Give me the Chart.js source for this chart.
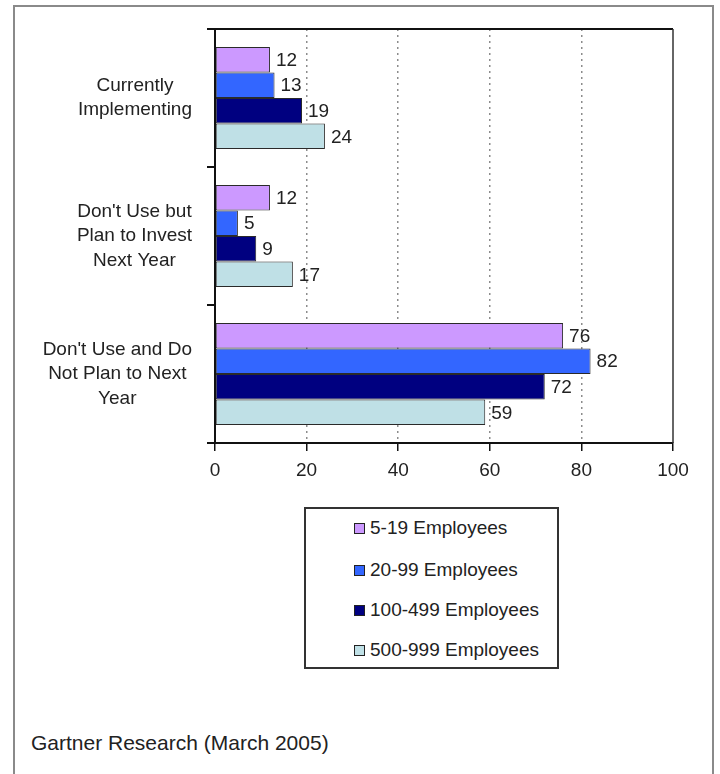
<!DOCTYPE html>
<html>
<head>
<meta charset="utf-8">
<script src="https://cdn.jsdelivr.net/npm/chart.js@4/dist/chart.umd.min.js"></script>
<style>
  html, body { margin: 0; padding: 0; background: #fff; }
  #page { position: relative; width: 720px; height: 774px; overflow: hidden; background: #fff; }
  #frame { position: absolute; left: 13px; top: 5px; width: 701px; height: 820px; border: 2px solid #8a8a8a; box-sizing: border-box; }
  #chart { position: absolute; left: 0; top: 0; }
  #legend { position: absolute; left: 304px; top: 507px; width: 255px; height: 162px; border: 2px solid #333; box-sizing: border-box; background: #fff; }
  .item { position: absolute; left: 0; height: 24px; line-height: 24px; font-family: "Liberation Sans", Arial, sans-serif; font-size: 19px; color: #222; white-space: nowrap; }
  .swatch { position: absolute; left: 48px; top: 7px; width: 9px; height: 9px; border: 1px solid #222; }
  .label { position: absolute; left: 64px; top: 0; }
  #footer { position: absolute; left: 31px; top: 731px; font-family: "Liberation Sans", Arial, sans-serif; font-size: 21px; line-height: 24px; color: #222; white-space: nowrap; }
</style>
</head>
<body>
<div id="page">
  <div id="frame"></div>
  <canvas id="chart" width="720" height="500"></canvas>
  <div id="legend"></div>
  <div id="footer">Gartner Research (March 2005)</div>
</div>
<script>
// ---- data ----
const categories = [
  ["Currently", "Implementing"],
  ["Don't Use but", "Plan to Invest", "Next Year"],
  ["Don't Use and Do", "Not Plan to Next", "Year"]
];
const seriesNames = ["5-19 Employees", "20-99 Employees", "100-499 Employees", "500-999 Employees"];
const emp5to19 = [12, 12, 76];
const emp20to99 = [13, 5, 82];
const emp100to499 = [19, 9, 72];
const emp500to999 = [24, 17, 59];
const xTickValues = [0, 20, 40, 60, 80, 100];

// ---- styles ----
const seriesColors = ["#CC99FF", "#3366FF", "#000080", "#BFE0E6"];
const FONT = '"Liberation Sans", Arial, sans-serif';
const seriesValues = [emp5to19, emp20to99, emp100to499, emp500to999];

const datasets = seriesNames.map((name, i) => ({
  label: name,
  data: seriesValues[i],
  backgroundColor: seriesColors[i],
  borderColor: "#2a2a2a",
  borderWidth: 1,
  borderSkipped: false,
  categoryPercentage: 0.74,
  barPercentage: 1.0
}));

const frameAndLabels = {
  id: 'frameAndLabels',
  afterDatasetsDraw(chart) {
    const ctx = chart.ctx;
    const a = chart.chartArea;
    ctx.save();
    // value labels
    ctx.font = '19px ' + FONT;
    ctx.fillStyle = '#222';
    ctx.textAlign = 'left';
    ctx.textBaseline = 'middle';
    chart.data.datasets.forEach((ds, di) => {
      const meta = chart.getDatasetMeta(di);
      meta.data.forEach((bar, j) => {
        ctx.fillText(String(ds.data[j]), bar.x + 6, bar.y + 1);
      });
    });
    // plot frame: top and right
    ctx.strokeStyle = '#111';
    ctx.lineWidth = 2;
    ctx.beginPath();
    ctx.moveTo(a.left, a.top);
    ctx.lineTo(a.right, a.top);
    ctx.stroke();
    ctx.strokeStyle = '#333';
    ctx.lineWidth = 1.5;
    ctx.beginPath();
    ctx.moveTo(a.right, a.top);
    ctx.lineTo(a.right, a.bottom);
    ctx.stroke();
    // category labels (right-aligned block, centered lines)
    const ys = chart.scales.y;
    ctx.font = '19px ' + FONT;
    ctx.fillStyle = '#222';
    ctx.textAlign = 'center';
    const lh = 24.5;
    const rightEdge = a.left - 23;
    categories.forEach((lines, i) => {
      const yc = ys.getPixelForTick(i);
      const w = Math.max(...lines.map(l => ctx.measureText(l).width));
      const cx = rightEdge - w / 2;
      const y0 = yc - (lines.length - 1) * lh / 2;
      lines.forEach((l, k) => ctx.fillText(l, cx, y0 + k * lh));
    });
    ctx.restore();
  }
};

new Chart(document.getElementById('chart'), {
  type: 'bar',
  data: { labels: categories.map(c => c.join(' ')), datasets },
  options: {
    indexAxis: 'y',
    responsive: false,
    animation: false,
    devicePixelRatio: 1,
    layout: { padding: { top: 29, right: 47, left: 0, bottom: 0 } },
    plugins: { legend: { display: false }, tooltip: { enabled: false } },
    scales: {
      x: {
        min: 0, max: 100,
        afterBuildTicks(scale) { scale.ticks = xTickValues.map(v => ({ value: v })); },
        afterFit(scale) { scale.height = 57; },
        grid: {
          color: (c) => (c.tick && (c.tick.value === 0 || c.tick.value === 100)) ? 'rgba(0,0,0,0)' : '#8c8c8c',
          tickColor: '#111',
          lineWidth: 1.5,
          tickLength: 8,
          tickWidth: 1.5
        },
        border: { display: true, color: '#111', width: 2, dash: [2, 4] },
        ticks: { color: '#222', font: { family: FONT, size: 19 }, padding: 8, maxRotation: 0 }
      },
      y: {
        afterFit(scale) { scale.width = 215; },
        grid: { display: true, drawOnChartArea: false, drawTicks: true, tickLength: 8, color: '#111', lineWidth: 2, offset: true },
        border: { display: true, color: '#111', width: 2 },
        ticks: { display: false }
      }
    }
  },
  plugins: [frameAndLabels]
});

// HTML legend built from the series arrays
const legend = document.getElementById('legend');
const rowTops = [7, 49, 89, 129];
seriesNames.forEach((name, i) => {
  const row = document.createElement('div');
  row.className = 'item';
  row.style.top = rowTops[i] + 'px';
  const sw = document.createElement('span');
  sw.className = 'swatch';
  sw.style.background = seriesColors[i];
  const lb = document.createElement('span');
  lb.className = 'label';
  lb.textContent = name;
  row.appendChild(sw);
  row.appendChild(lb);
  legend.appendChild(row);
});
</script>
</body>
</html>
